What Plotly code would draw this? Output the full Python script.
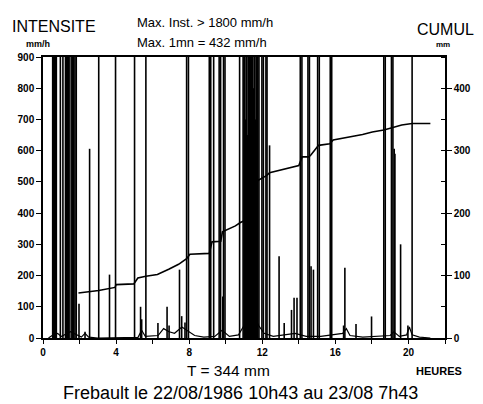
import plotly.graph_objects as go

# ---------------- data ----------------
# rainfall intensity spikes (hours since 10h43, mm/h) -- values > 900 are off-scale
spike_times = [0.53, 0.58, 0.63, 0.68, 0.73, 0.95, 1.09, 1.23, 1.28, 1.33, 1.38, 1.43,
               1.54, 1.61, 1.68, 1.75, 1.82, 1.97, 2.30, 2.55, 3.05, 3.64, 3.97, 5.01,
               5.34, 5.40, 5.63, 6.29, 6.79, 6.90, 7.47, 7.59, 7.77, 7.86, 7.96,
               9.10, 9.18, 9.34, 9.64, 9.72, 9.84, 9.88, 9.96, 10.76, 10.95,
               11.00, 11.04, 11.08, 11.12, 11.16, 11.20, 11.24, 11.28, 11.32, 11.36,
               11.40, 11.44, 11.48, 11.52, 11.56, 11.60, 11.64, 11.68, 11.72, 11.76,
               11.82, 11.98, 12.06, 12.20, 12.26, 12.40, 12.92, 13.20, 13.60, 13.74,
               13.90, 14.08, 14.17, 14.50, 14.58, 14.67, 14.80, 15.03, 15.12, 15.72,
               15.80, 16.45, 16.52, 17.13, 17.98, 18.65, 18.73, 19.07, 19.15, 19.22,
               19.26, 19.57, 19.97, 20.20]
spike_values = [1300, 1500, 1200, 1400, 1100, 1000, 1000, 1200, 1300, 1100, 1400, 1200,
                1000, 1100, 1000, 1200, 1100, 110, 20, 606, 1100, 203, 1000, 1000,
                100, 60, 1000, 48, 100, 40, 219, 70, 50, 1200, 1100,
                1100, 1000, 1000, 1000, 1100, 133, 1000, 1000, 1000, 1100,
                1200, 1100, 700, 1300, 1000, 650, 1500, 1800, 1100, 900,
                1400, 1000, 1250, 800, 1050, 950, 700, 1150, 1000, 1000,
                1000, 1000, 1000, 1000, 1000, 617, 262, 48, 90, 129,
                129, 1000, 1000, 1000, 1000, 230, 219, 1000, 1000, 1000,
                1000, 40, 225, 45, 69, 1000, 1000, 1000, 1000, 606,
                590, 300, 40, 1000]

# low-level background intensity (mm/h)
base_times = [0.3, 0.5, 0.8, 1.0, 1.5, 1.9, 2.1, 2.3, 2.5, 3.0, 5.2, 5.4, 5.6, 6.3, 6.6,
              6.9, 7.2, 7.6, 8.0, 8.3, 8.8, 9.4, 9.8, 10.2, 10.7, 11.0, 11.4, 11.8, 12.1,
              12.6, 13.2, 13.8, 14.4, 15.2, 16.4, 16.6, 16.8, 17.5, 19.0, 19.2, 19.5,
              19.9, 20.05, 20.2, 20.6, 21.2]
base_values = [0, 8, 15, 5, 20, 10, 3, 15, 3, 0, 2, 25, 5, 8, 30,
               20, 15, 35, 20, 8, 3, 5, 25, 5, 10, 40, 90, 40, 15,
               5, 10, 15, 5, 5, 15, 30, 8, 3, 8, 20, 5,
               10, 35, 10, 3, 0]

# cumulative rainfall (mm)
cum_times = [1.94, 3.05, 3.94, 4.00, 4.97, 5.19, 5.63, 6.26, 6.88, 7.42, 7.86, 8.04, 9.10,
             9.25, 9.73, 9.82, 10.53, 10.80, 11.05, 11.75, 12.23, 12.40, 14.00, 14.18,
             14.55, 14.67, 15.08, 15.70, 15.88, 16.42, 16.95, 17.49, 18.02, 18.65, 19.10,
             19.63, 20.20, 21.20]
cum_values = [72, 76, 81, 85.5, 86.6, 96, 99, 101.6, 110, 118, 127, 134, 135.5,
              154, 155, 170, 179.5, 185, 188, 252, 260, 264.5, 276, 290,
              290, 293.5, 308.5, 311, 317, 320, 322, 326, 330, 333, 336.6,
              341, 343.5, 343.5]

x_tick_vals = [0, 4, 8, 12, 16, 20]
x_tick_text = ["0", "4", "8", "12", "16", "20"]

# ---------------- figure ----------------
W, H = 483, 404
ML, MR, MT, MB = 43, 29, 57, 66
PW, PH = W - ML - MR, H - MT - MB

def px(xp):
    return (xp - ML) / PW

def py(yp):
    return (H - MB - yp) / PH

sx, sy = [], []
for t, v in zip(spike_times, spike_values):
    sx += [t, t, None]
    sy += [0, v, None]

FONT = "Liberation Sans, Arial, sans-serif"

fig = go.Figure()
fig.add_trace(go.Scatter(x=base_times, y=base_values, mode="lines",
                         line=dict(color="black", width=1.2), hoverinfo="skip"))
fig.add_trace(go.Scatter(x=sx, y=sy, mode="lines",
                         line=dict(color="black", width=1.6), hoverinfo="skip"))
fig.add_trace(go.Scatter(x=cum_times, y=cum_values, mode="lines", yaxis="y2",
                         line=dict(color="black", width=1.6), hoverinfo="skip"))

tickfont = dict(family=FONT, size=10, color="black", weight="bold")

fig.update_layout(
    width=W, height=H,
    margin=dict(l=ML, r=MR, t=MT, b=MB, pad=0),
    paper_bgcolor="white", plot_bgcolor="white",
    showlegend=False,
    font=dict(family=FONT, color="black"),
    xaxis=dict(range=[0, 22], showgrid=False, zeroline=False,
               showline=True, linecolor="black", linewidth=1.5, mirror=True,
               tickmode="array", tickvals=x_tick_vals, ticktext=x_tick_text,
               ticks="outside", ticklen=4, tickwidth=1.2, tickcolor="black",
               minor=dict(dtick=2, tick0=0, ticks="outside", ticklen=4,
                          tickwidth=1.2, tickcolor="black"),
               tickfont=tickfont),
    yaxis=dict(range=[0, 900], dtick=100, showgrid=False, zeroline=False,
               showline=True, linecolor="black", linewidth=1.5,
               ticks="outside", ticklen=5, tickwidth=1.2, tickcolor="black",
               tickfont=tickfont),
    yaxis2=dict(range=[0, 450], dtick=100, overlaying="y", side="right",
                showgrid=False, zeroline=False,
                showline=True, linecolor="black", linewidth=1.5,
                ticks="outside", ticklen=5, tickwidth=1.2, tickcolor="black",
                minor=dict(dtick=50, ticks="inside", ticklen=4, tickwidth=1.2,
                           tickcolor="black"),
                tickfont=tickfont),
)

def note(text, xp, yp, size, xanchor="center", bold=False):
    fig.add_annotation(text=text, xref="paper", yref="paper", x=px(xp), y=py(yp),
                       xanchor=xanchor, yanchor="middle", showarrow=False,
                       font=dict(family=FONT, size=size, color="black",
                                 weight="bold" if bold else "normal"))

note("INTENSITE", 54.7, 26, 16)
note("mm/h", 38, 44, 9, bold=True)
note("Max. Inst. > 1800 mm/h", 137, 23, 13, xanchor="left")
note("Max. 1mn = 432 mm/h", 137, 43, 13, xanchor="left")
note("CUMUL", 455, 29, 16)
note("mm", 451.5, 44, 8, bold=True)
note("T = 344 mm", 233, 370.5, 15.5)
note("HEURES", 448, 370.5, 11, bold=True)
note("Frebault le 22/08/1986 10h43 au 23/08 7h43", 244.7, 393, 18)

fig.write_html("out.html")
